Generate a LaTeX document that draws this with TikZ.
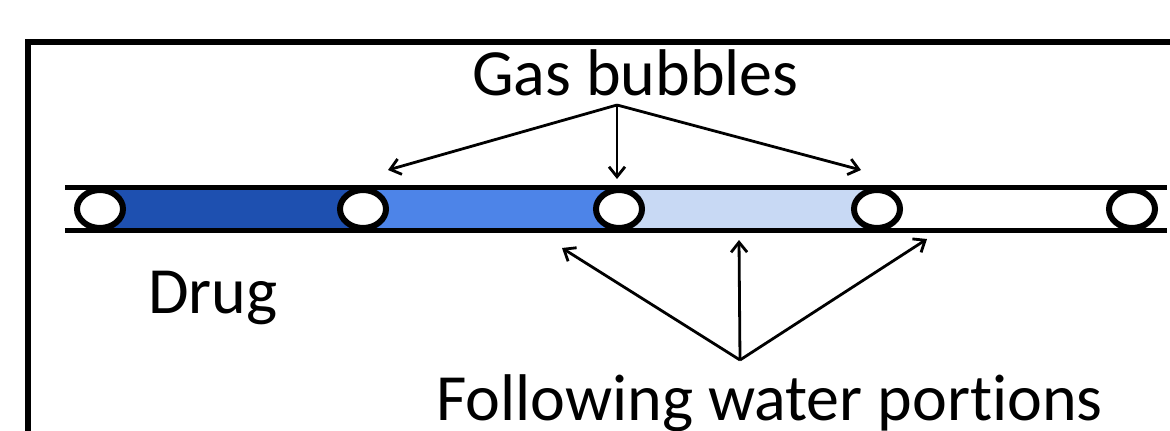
\documentclass[tikz,border=0pt]{standalone}
\usepackage{fontspec}
\setmainfont[Ligatures={NoCommon,NoDiscretionary}]{Carlito}
\usetikzlibrary{arrows.meta,shapes.geometric}
\definecolor{segdark}{HTML}{1E50B0}
\definecolor{segmid}{HTML}{4D84E8}
\definecolor{seglight}{HTML}{C8D9F4}
\tikzset{
  lbl/.style={inner sep=0pt,font=\fontsize{66}{79}\selectfont},
  wall/.style={line width=5.5pt},
  bubble/.style={ellipse,draw,line width=6pt,fill=white,minimum width=46pt,minimum height=38pt,inner sep=0pt},
  pointer/.style={line width=2.8pt,-{Straight Barb[length=10pt,width=16pt,line width=2.8pt]}}
}
\begin{document}
\begin{tikzpicture}[x=1pt,y=-1pt]
\useasboundingbox (0,0) rectangle (1170,431);
\clip (0,0) rectangle (1170,431);
\fill[white] (0,0) rectangle (1170,431);
% frame
\draw[line width=6pt] (27.5,460) -- (27.5,41.5) -- (1200,41.5);
% segments
\fill[segdark] (100,187.5) rectangle (363,230.5);
\fill[segmid] (363,187.5) rectangle (619,230.5);
\fill[seglight] (619,187.5) rectangle (877,230.5);
% tube walls
\draw[wall] (65,187.5) -- (1167,187.5);
\draw[wall] (65,230.5) -- (1167,230.5);
% bubbles
\node[bubble] (b1) at (100,209) {};
\node[bubble] (b2) at (363,209) {};
\node[bubble] (b3) at (619,209) {};
\node[bubble] (b4) at (877,209) {};
\node[bubble] (b5) at (1132,209) {};
% labels
\node[lbl,anchor=base] (gas) at (635.5,95) {Gas bubbles};
\node[lbl,anchor=base west] (drug) at (148,313) {Drug};
\node[lbl,anchor=base] (water) at (769.5,420) {Following water portions};
% arrows
\coordinate (gf) at (617,105);
\coordinate (g1) at (388,170);
\coordinate (g2) at (617,179);
\coordinate (g3) at (861,170);
\draw[pointer] (gf) -- (g1);
\draw[pointer] (gf) -- (g2);
\draw[pointer] (gf) -- (g3);
\coordinate (wf) at (740,360);
\coordinate (w1) at (562,248);
\coordinate (w2) at (739,240);
\coordinate (w3) at (927,239);
\draw[pointer] (wf) -- (w1);
\draw[pointer] (wf) -- (w2);
\draw[pointer] (wf) -- (w3);
\end{tikzpicture}
\end{document}
